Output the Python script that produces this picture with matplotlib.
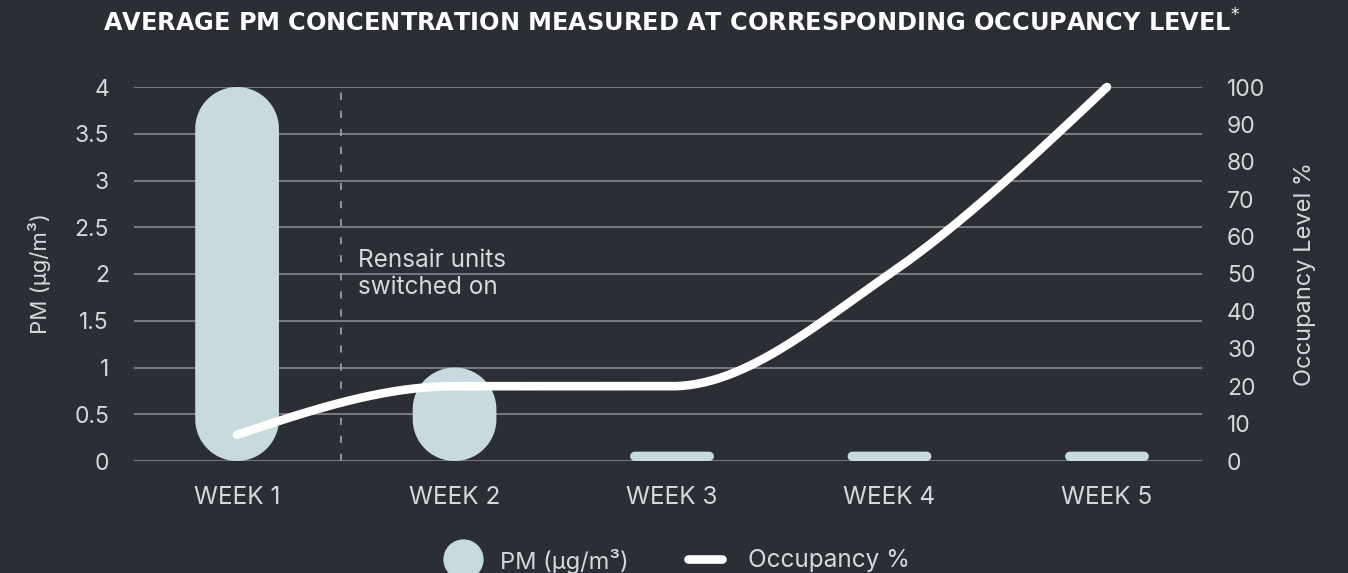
import numpy as np
import matplotlib
matplotlib.use("Agg")
import matplotlib.pyplot as plt
from matplotlib.patches import Polygon
from matplotlib.lines import Line2D

# ---- data ----
weeks = ["WEEK 1", "WEEK 2", "WEEK 3", "WEEK 4", "WEEK 5"]
pm_values = [4.0, 1.0, 0.1, 0.1, 0.1]
occupancy = [7, 20, 20, 50, 100]
pm_ticks = [0, 0.5, 1, 1.5, 2, 2.5, 3, 3.5, 4]
pm_ticklabels = ["0", "0.5", "1", "1.5", "2", "2.5", "3", "3.5", "4"]
occ_ticks = [0, 10, 20, 30, 40, 50, 60, 70, 80, 90, 100]
switch_on_pos = 0.48

BG = "#2c2e36"
BAR = "#c7dadd"
GRID = "#85878d"
TXT = "#d6d8dc"
FONT = ["Inter", "DejaVu Sans"]

plt.rcParams["font.family"] = FONT

fig = plt.figure(figsize=(13.48, 5.73), dpi=100)
fig.patch.set_facecolor(BG)
W, H = 1348, 573
ax = fig.add_axes([134 / W, 1 - 461 / H, (1202 - 134) / W, (461 - 87) / H])
ax.set_facecolor(BG)
ax2 = ax.twinx()

ax.set_xlim(-0.474, 4.437)
ax.set_ylim(0, 4)
ax2.set_ylim(0, 100)

for s in list(ax.spines.values()) + list(ax2.spines.values()):
    s.set_visible(False)

ax.set_yticks(pm_ticks)
ax.set_yticklabels(pm_ticklabels)
ax2.set_yticks(occ_ticks)
ax.grid(axis="y", color=GRID, linewidth=1.2)
ax.set_axisbelow(True)
ax.tick_params(axis="y", length=0, pad=18, labelsize=16.5, labelcolor=TXT)
ax2.tick_params(axis="y", length=0, pad=18, labelsize=16.5, labelcolor=TXT)
xpos = np.arange(len(weeks))
ax.set_xticks(xpos)
ax.set_xticklabels(weeks)
ax.tick_params(axis="x", length=0, pad=18, labelsize=17.5, labelcolor=TXT)

ax.set_ylabel("PM (µg/m³)", color=TXT, fontsize=16, labelpad=17)
ax2.set_ylabel("Occupancy Level %", color=TXT, fontsize=17, labelpad=21)

# pill-shaped bars (rounded in pixel space)
fig.canvas.draw()
px_per_x = ax.transData.transform((1, 0))[0] - ax.transData.transform((0, 0))[0]
px_per_y = ax.transData.transform((0, 1))[1] - ax.transData.transform((0, 0))[1]
bar_w = 0.385


def pill(xc, w, h):
    rpx = min(w * px_per_x, h * px_per_y) / 2
    rx = rpx / px_per_x
    ry = rpx / px_per_y
    x0, x1 = xc - w / 2, xc + w / 2
    pts = []
    corners = [(x1 - rx, h - ry, 0, 90), (x0 + rx, h - ry, 90, 180),
               (x0 + rx, ry, 180, 270), (x1 - rx, ry, 270, 360)]
    for cx_, cy_, a0, a1 in corners:
        a = np.radians(np.linspace(a0, a1, 40))
        pts.extend(zip(cx_ + rx * np.cos(a), cy_ + ry * np.sin(a)))
    return np.array(pts)


for x, v in zip(xpos, pm_values):
    ax.add_patch(Polygon(pill(x, bar_w, v), closed=True, facecolor=BAR,
                         edgecolor="none", zorder=2, clip_on=False))

# dashed switch-on line
ax.axvline(switch_on_pos, color="#9a9ca2", linewidth=1.3, linestyle=(0, (4, 6)), zorder=1)
ax.text(switch_on_pos + 0.075, 2.0, "Rensair units\nswitched on", color=TXT,
        fontsize=17.5, va="center", ha="left", linespacing=1.2)

# monotone cubic curve through the 5 occupancy values
xs = np.array(xpos, dtype=float)
ys = np.array(occupancy, dtype=float)
d = np.diff(ys) / np.diff(xs)
m = np.zeros_like(ys)
for i in range(1, len(ys) - 1):
    s0, s1 = d[i - 1], d[i]
    p_ = (s0 + s1) / 2
    m[i] = (np.sign(s0) + np.sign(s1)) * min(abs(s0), abs(s1), 0.5 * abs(p_))
m[0] = (3 * d[0] - m[1]) / 2
m[-1] = (3 * d[-1] - m[-2]) / 2
cx, cy = [], []
for i in range(len(xs) - 1):
    t = np.linspace(0, 1, 60)
    h = xs[i + 1] - xs[i]
    h00 = 2 * t**3 - 3 * t**2 + 1
    h10 = t**3 - 2 * t**2 + t
    h01 = -2 * t**3 + 3 * t**2
    h11 = t**3 - t**2
    cx.extend(xs[i] + t * h)
    cy.extend(h00 * ys[i] + h10 * h * m[i] + h01 * ys[i + 1] + h11 * h * m[i + 1])
ax2.plot(cx, cy, color="white", linewidth=6.2, solid_capstyle="round", zorder=3, clip_on=False)

# title
fig.text(0.498, 1 - 23 / H, "AVERAGE PM CONCENTRATION MEASURED AT CORRESPONDING OCCUPANCY LEVEL$^{*}$",
         color="white", fontsize=17.3, fontweight="bold", ha="center", va="center",
         family=["DejaVu Sans"])

# legend (manual)
ly = 1 - 559 / H
fig.add_artist(Line2D([463 / W], [ly], marker="o", markersize=28, color=BAR,
                      linestyle="none", transform=fig.transFigure))
fig.text(500 / W, 1 - 561 / H, "PM (µg/m³)", color=TXT, fontsize=17, va="center", ha="left")
fig.add_artist(Line2D([688 / W, 722 / W], [ly, ly], color="white",
                      linewidth=6.2, solid_capstyle="round", transform=fig.transFigure))
fig.text(748 / W, 1 - 561 / H, "Occupancy %", color=TXT, fontsize=17.5, va="center", ha="left")

fig.savefig("out.png", dpi=100, facecolor=BG)
